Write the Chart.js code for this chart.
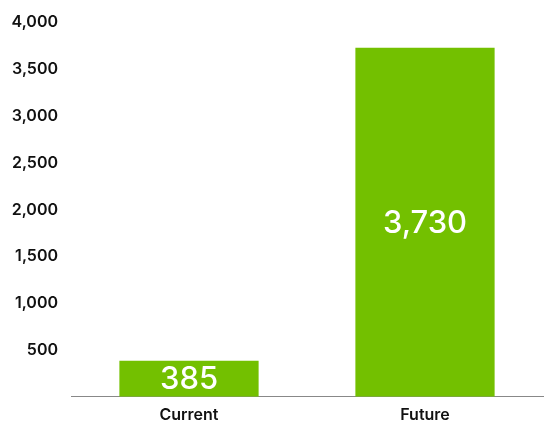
<!DOCTYPE html>
<html>
<head>
<meta charset="utf-8">
<script src="https://cdn.jsdelivr.net/npm/chart.js@4/dist/chart.umd.min.js"></script>
<style>
  html, body { margin: 0; padding: 0; background: #fff; }
  #wrap { width: 545px; height: 425px; }
</style>
</head>
<body>
<div id="wrap"><canvas id="chart"></canvas></div>
<script>
var categories = ['Current', 'Future'];
var values = [385, 3730];
var yTicks = [500, 1000, 1500, 2000, 2500, 3000, 3500, 4000];

var green = '#73C000';
Chart.defaults.font.family = 'Inter, "Open Sans", sans-serif';
Chart.defaults.color = '#111';

// white value labels centred in each bar
var barLabels = {
  id: 'barLabels',
  afterDatasetsDraw: function (chart) {
    var ctx = chart.ctx;
    var meta = chart.getDatasetMeta(0);
    ctx.save();
    ctx.fillStyle = '#fff';
    ctx.font = '500 31px Inter, "Open Sans", sans-serif';
    ctx.textAlign = 'center';
    ctx.textBaseline = 'middle';
    meta.data.forEach(function (bar, i) {
      var mid = (bar.y + bar.base) / 2;
      ctx.fillText(values[i].toLocaleString('en-US'), bar.x, mid + 1);
    });
    ctx.restore();
  }
};

new Chart(document.getElementById('chart'), {
  type: 'bar',
  data: { labels: categories, datasets: [{ data: values, backgroundColor: green, barPercentage: 0.59, categoryPercentage: 1 }] },
  options: {
    responsive: true,
    maintainAspectRatio: false,
    animation: false,
    layout: { padding: { top: 8, right: 2, left: 0, bottom: -9 } },
    plugins: { legend: { display: false }, tooltip: { enabled: false } },
    scales: {
      x: {
        grid: { display: false, drawTicks: false },
        border: { display: true, color: '#888', width: 1 },
        ticks: { font: { size: 16, weight: '600' }, padding: 9, color: '#111' }
      },
      y: {
        min: 0, max: 4000,
        afterBuildTicks: function (axis) { axis.ticks = yTicks.map(function (v) { return { value: v }; }); },
        afterFit: function (axis) { axis.width = 71; },
        grid: { display: false, drawTicks: false },
        border: { display: false },
        ticks: {
          font: { size: 16, weight: '600' }, padding: 13, color: '#111',
          callback: function (v) { return v.toLocaleString('en-US'); }
        }
      }
    }
  },
  plugins: [barLabels]
});
</script>
</body>
</html>
